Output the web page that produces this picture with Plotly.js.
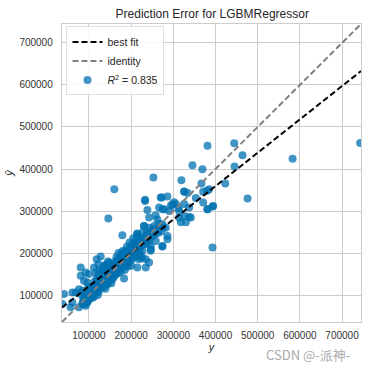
<!DOCTYPE html>
<html>
<head>
<meta charset="utf-8">
<script src="https://cdn.plot.ly/plotly-3.0.1.min.js"></script>
<style>html,body{margin:0;padding:0;background:#fff;}#chart{width:366px;height:369px;}</style>
</head>
<body>
<div id="chart"></div>
<script>
// actual sale price (y) for each test sample
const actual = [
60600,56400,76250,84200,92100,96000,36600,40600,68400,80300,76250,88100,96000,92100,100000,80300,60600,84200,80300,
88000,95000,100000,102000,105000,108000,110000,98000,112000,90000,86000,104000,114000,116000,100000,94000,
118000,120000,122000,124000,126000,128000,130000,132000,134000,136000,138000,140000,142000,144000,146000,148000,150000,152000,154000,156000,158000,160000,118000,122000,127800,118300,122100,147500,143600,111900,115900,125000,133000,140000,137000,145000,129000,149000,113000,117000,121000,139000,135000,126000,131000,143000,153000,157000,
162000,164000,166000,168000,170000,172000,174000,176000,178000,180000,182000,184000,186000,188000,190000,192000,194000,196000,198000,200000,202000,204000,206000,208000,210000,212000,214000,216000,218000,220000,183100,195000,199000,202900,210900,214700,234600,226600,218750,242500,179100,165000,170000,175000,185000,190000,180000,196000,205000,172000,160000,188000,200000,168000,176000,192000,208000,214000,
222300,234600,226600,246500,234600,242500,250300,218800,226600,262200,286000,274100,282000,230600,242500,254400,274100,234600,258300,286000,274100,246500,246500,214700,230600,242500,233000,238500,272600,286000,297800,305900,266200,274100,290000,313750,278000,294000,302000,312300,325600,337500,353300,381000,394500,313700,325600,341400,317800,329700,270000,262000,252000,238000,222000,228000,258000,266000,
743000,582800,476000,381000,444400,464100,445100,423000,392900,345300,369000,160100,145800,252700,319200,366700,325600,385000,392900,381000,370700,337500,326000,334000,370700,380000,233000,214300,
85000,88000,90000,93000,97000,99000,103000,106000,109000,111000,
113000,115000,117000,119000,121000,123000,125000,127000,129000,131000,
133000,135000,137000,139000,141000,143000,145000,147000,149000,151000,
153000,155000,157000,159000,161000,163000,165000,167000,169000,171000,
173000,175000,177000,179000,181000,183000,185000,187000,189000,191000,
193000,195000,197000,199000,201000,203000,205000,207000,209000,211000,
213000,215000,217000,219000,221000,224000,227000,230000,233000,236000,
240000,244000,248000,252000,256000,260000,264000,268000,272000,276000,
180000,186000,176000,170000,160000,150000,140000,130000,120000,110000
];
// model prediction (y-hat) for each test sample
const predicted = [
82500,70800,70800,78700,74600,82500,78700,102400,106400,102400,114200,134100,130200,154000,150000,165800,106400,110200,145800,
88000,95000,90000,105000,98000,112000,104000,118000,96000,100000,92000,120000,110000,125000,112000,106000,
118000,128000,112000,135000,122000,140000,130000,118000,145000,128000,150000,138000,124000,155000,142000,132000,160000,148000,138000,165000,152000,145000,140000,150000,191900,185400,173600,177700,169800,165800,154000,160000,165000,172000,160000,180000,150000,170000,132000,105000,100000,115000,170000,145000,155000,135000,128000,140000,
170000,158000,182000,168000,175000,160000,188000,178000,165000,192000,182000,170000,198000,185000,175000,205000,190000,180000,210000,195000,185000,215000,200000,190000,220000,205000,195000,212000,225000,200000,139700,205300,197400,221100,228900,165800,165800,189500,185400,177700,242500,190000,200000,155000,160000,215000,205000,225000,235000,185000,178000,202000,170000,152000,198000,168000,212000,240000,
189500,185400,205300,209200,221100,228900,240800,237000,248900,252700,240800,268700,260500,264500,260500,264500,217000,225200,229000,233000,215600,205300,217000,244900,264600,284400,324100,302700,332000,334400,316100,316100,308300,304300,300200,300200,304000,312800,320700,307100,316600,308300,331300,304300,312000,284400,288300,284400,273300,273300,332000,280000,258000,250000,215000,230000,290000,270000,
462000,424700,329700,455500,461000,432500,405700,365300,213300,408800,399300,351800,282200,379500,373100,365300,346300,351800,310700,304300,320200,286000,346000,342800,346000,348000,327000,246500,
80000,84000,78000,88000,86000,96000,92000,100000,94000,108000,
102000,114000,110000,122000,116000,108000,126000,118000,132000,124000,
136000,122000,140000,132000,146000,128000,150000,140000,136000,154000,
146000,158000,150000,162000,156000,166000,150000,172000,162000,178000,
168000,182000,172000,186000,176000,190000,180000,194000,184000,198000,
188000,200000,192000,204000,196000,208000,198000,214000,202000,218000,
210000,222000,204000,226000,216000,230000,220000,236000,226000,242000,
232000,246000,238000,250000,244000,256000,248000,260000,252000,262000,
196000,206000,190000,186000,172000,164000,156000,144000,134000,120000
];
const r2Label = "<i>R</i><sup>2</sup> = 0.835";
const axisMin = 36000, axisMax = 745000;

// least-squares best fit of predicted on actual
const n = actual.length;
const mx = actual.reduce((a,b)=>a+b,0)/n, my = predicted.reduce((a,b)=>a+b,0)/n;
let sxy=0, sxx=0;
for(let i=0;i<n;i++){sxy+=(actual[i]-mx)*(predicted[i]-my); sxx+=(actual[i]-mx)**2;}
const slope = sxy/sxx, intercept = my - slope*mx;
const lineX = [axisMin, axisMax];

const traces = [
  {x: actual, y: predicted, mode:'markers', type:'scatter', name: r2Label, legendrank: 3,
   marker:{color:'#0072B2', opacity:0.75, size:8, line:{width:0}}},
  {x: lineX, y: lineX.map(v=>slope*v+intercept), mode:'lines', name:'best fit', legendrank:1,
   line:{color:'#000000', width:2, dash:'6px,3px'}},
  {x: lineX, y: lineX, mode:'lines', name:'identity', legendrank:2,
   line:{color:'#808080', width:2, dash:'6px,3px'}}
];

const ax = {
  range:[axisMin, axisMax], tickmode:'array', tickvals:[100000,200000,300000,400000,500000,600000,700000],
  tickformat:'d', showgrid:true, gridcolor:'#cccccc', gridwidth:1, zeroline:false,
  showline:true, mirror:true, linecolor:'#cccccc', linewidth:1.25, ticks:'',
  tickfont:{family:'Liberation Sans, Arial, sans-serif', size:10, color:'#333'}
};

const layout = {
  width:366, height:369,
  margin:{l:62, r:5, t:24, b:47},
  paper_bgcolor:'#fff', plot_bgcolor:'#fff',
  font:{family:'Liberation Sans, Arial, sans-serif', color:'#262626'},
  title:{text:'Prediction Error for LGBMRegressor', font:{size:12, color:'#262626'}, x:0.58, xanchor:'center', y:0.975, yanchor:'top'},
  xaxis:Object.assign({}, ax, {title:{text:'<i>y</i>', font:{size:11}, standoff:2}, ticklabelstandoff:4}),
  yaxis:Object.assign({}, ax, {title:{text:'<i>ŷ</i>', font:{size:11}, standoff:3}, ticklabelstandoff:6}),
  showlegend:true,
  legend:{x:0.015, y:0.992, xanchor:'left', yanchor:'top', bgcolor:'rgba(255,255,255,0.85)',
    bordercolor:'#e0e0e0', borderwidth:1, font:{size:10.5, color:'#262626'}, itemwidth:30, tracegroupgap:0},
  annotations:[{text:'CSDN @-派神-', xref:'paper', yref:'paper', x:0.97, y:-0.07, xanchor:'right', yanchor:'top',
    showarrow:false, font:{size:13, color:'#aaaaaa', family:'Noto Sans CJK SC, sans-serif'}}]
};
Plotly.newPlot('chart', traces, layout, {displayModeBar:false, staticPlot:true});
</script>
</body>
</html>
